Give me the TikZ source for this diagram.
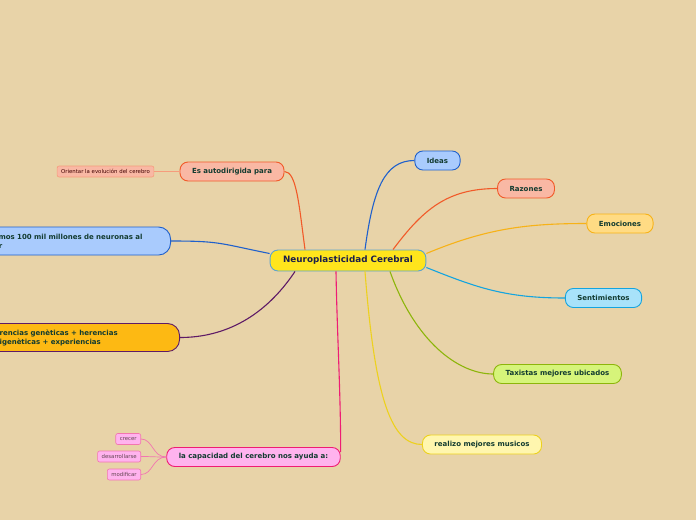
\documentclass[tikz,border=0pt]{standalone}
\usepackage{fontspec}
\setmainfont{DejaVu Sans}

\definecolor{bg}{HTML}{E8D3A8}
\definecolor{txt}{HTML}{123B30}
\definecolor{txtc}{HTML}{1B1F4A}
\definecolor{neuroF}{HTML}{FFE51C}
\definecolor{neuroD}{HTML}{5BA3CF}
\definecolor{blueF}{HTML}{A9CBFD}
\definecolor{blueD}{HTML}{1F60CC}
\definecolor{redF}{HTML}{F9B8A4}
\definecolor{redD}{HTML}{F15A29}
\definecolor{emoF}{HTML}{FFDB84}
\definecolor{emoD}{HTML}{F7B217}
\definecolor{skyF}{HTML}{A8E2FA}
\definecolor{skyD}{HTML}{14A4DF}
\definecolor{grnF}{HTML}{D6F47A}
\definecolor{grnD}{HTML}{8DB50B}
\definecolor{yelF}{HTML}{FFF6AE}
\definecolor{yelD}{HTML}{EDD11E}
\definecolor{pinkF}{HTML}{FFB3EE}
\definecolor{pinkD}{HTML}{EE1D74}
\definecolor{pinkL}{HTML}{F276B0}
\definecolor{redL}{HTML}{F69C7C}
\definecolor{orgF}{HTML}{FDB913}
\definecolor{purD}{HTML}{5E1A66}

\begin{document}
\begin{tikzpicture}[x=1pt, y=-1pt,
    central/.style={rounded corners=8pt, line width=0.9pt, fill=neuroF, draw=neuroD,
        inner xsep=13pt, inner ysep=0pt, minimum height=21pt, text=txtc,
        font=\fontsize{8.8}{10}\selectfont\bfseries},
    topic/.style={rounded corners=8pt, line width=0.9pt, inner xsep=12pt, inner ysep=0pt,
        minimum height=19pt, text=txt, font=\fontsize{7}{9}\selectfont\bfseries},
    bigtopic/.style={rounded corners=12pt, line width=0.9pt, inner xsep=8pt, inner ysep=0pt,
        minimum height=28pt, text=txt, align=left, text width=#1,
        font=\fontsize{7}{9}\selectfont\bfseries},
    leaf/.style={rounded corners=2pt, line width=0.6pt, inner xsep=4pt, inner ysep=0pt,
        minimum height=11pt, font=\fontsize{5.4}{6}\selectfont},
    link/.style={line width=1.1pt},
    sublink/.style={line width=0.7pt}]

    \useasboundingbox[fill=bg] (0,0) rectangle (696,520);

    %central topic
    \node (neuro) at (348,260.5) [central] {Neuroplasticidad Cerebral};

    %right side
    \node (ideas) at (437.5,160.5) [topic, fill=blueF, draw=blueD] {Ideas};
    \node (razones) at (526,188.5) [topic, fill=redF, draw=redD] {Razones};
    \node (emociones) at (620,223.5) [topic, fill=emoF, draw=emoD] {Emociones};
    \node (sentim) at (603.5,298) [topic, fill=skyF, draw=skyD] {Sentimientos};
    \node (taxistas) at (557.5,374) [topic, fill=grnF, draw=grnD] {Taxistas mejores ubicados};
    \node (musicos) at (482,444.5) [topic, fill=yelF, draw=yelD] {realizo mejores musicos};

    %left side
    \node (autodir) at (232,171.5) [topic, fill=redF, draw=redD] {Es autodirigida para};
    \node (capacidad) at (253.5,457) [topic, fill=pinkF, draw=pinkD] {la capacidad del cerebro nos ayuda a:};
    \node (neuronas) at (171,241) [anchor=east, bigtopic=182.3pt, fill=blueF, draw=blueD]
        {Tenemos 100 mil millones de neuronas al\\nacer};
    \node (herencias) at (180,337.5) [anchor=east, bigtopic=181.7pt, fill=orgF, draw=purD]
        {herencias genèticas + herencias\\epigenèticas + experiencias};

    %leaves
    \node (orientar) at (105.5,171.5) [leaf, fill=redF, draw=redL, text=black!75!red] {Orientar la evolución del cerebro};
    \node (crecer) at (141,439) [anchor=east, leaf, fill=pinkF, draw=pinkL, text=black!70!magenta] {crecer};
    \node (desarrollarse) at (141,456.5) [anchor=east, leaf, fill=pinkF, draw=pinkL, text=black!70!magenta] {desarrollarse};
    \node (modificar) at (141,474.5) [anchor=east, leaf, fill=pinkF, draw=pinkL, text=black!70!magenta] {modificar};

    %links from the central topic
    \draw[link, blueD] ([xshift=17pt]neuro.north) .. controls +(8,-60) and +(-30,0) .. (ideas.west);
    \draw[link, redD] ([xshift=45pt]neuro.north) .. controls +(30,-40) and +(-50,0) .. (razones.west);
    \draw[link, emoD] ([yshift=7pt]neuro.east) .. controls +(60,-25) and +(-60,0) .. (emociones.west);
    \draw[link, skyD] ([yshift=-7pt]neuro.east) .. controls +(50,20) and +(-60,0) .. (sentim.west);
    \draw[link, grnD] ([xshift=42pt]neuro.south) .. controls +(25,70) and +(-35,0) .. (taxistas.west);
    \draw[link, yelD] ([xshift=17pt]neuro.south) .. controls +(10,130) and +(-30,0) .. (musicos.west);
    \draw[link, pinkD] ([xshift=-12pt]neuro.south) .. controls +(1,60) and +(0,-60) .. ([yshift=5pt]capacidad.east);
    \draw[link, redD] ([xshift=-43pt]neuro.north) .. controls +(-6,-45) and +(12,0) .. (autodir.east);
    \draw[link, blueD] ([yshift=7pt]neuro.west) .. controls +(-50,-10) and +(50,0) .. (neuronas.east);
    \draw[link, purD] ([xshift=-53pt]neuro.south) .. controls +(-30,45) and +(45,0) .. (herencias.east);

    %links to the leaves
    \draw[sublink, redL] (autodir.west) -- (orientar.east);
    \foreach \leaf in {crecer, desarrollarse, modificar} {
        \draw[sublink, pinkL] (capacidad.west) .. controls +(-14,0) and +(12,0) .. (\leaf.east);
    }

\end{tikzpicture}
\end{document}
